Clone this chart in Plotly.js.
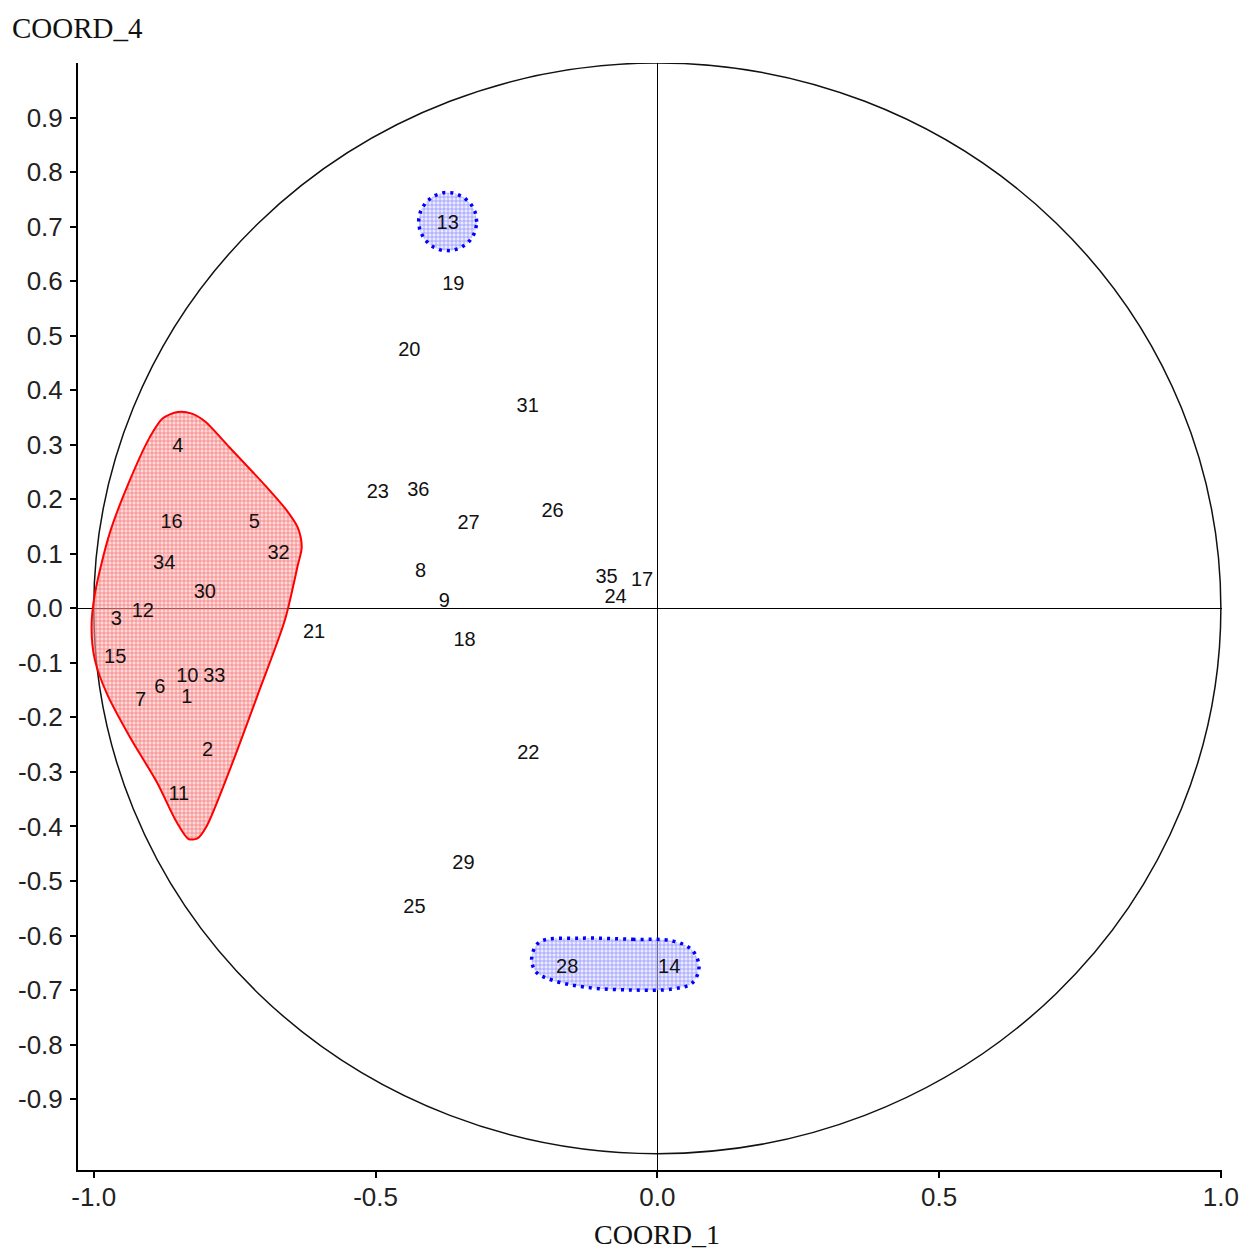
<!DOCTYPE html>
<html>
<head>
<meta charset="utf-8">
<script src="https://cdn.plot.ly/plotly-3.0.1.min.js"></script>
<style>html,body{margin:0;padding:0;background:#fff;}#chart{width:1250px;height:1252px;}</style>
</head>
<body>
<div id="chart"></div>
<script>
// Point labels and coordinates (COORD_1, COORD_4)
const pointLabels = ['1','2','3','4','5','6','7','8','9','10','11','12','13','14','15','16','17','18',
  '19','20','21','22','23','24','25','26','27','28','29','30','31','32','33','34','35','36'];
const coord1 = [-0.835,-0.798,-0.960,-0.851,-0.715,-0.883,-0.917,-0.420,-0.378,-0.834,-0.849,-0.913,
  -0.372,0.021,-0.962,-0.862,-0.027,-0.342,-0.362,-0.440,-0.609,-0.229,-0.496,-0.074,-0.431,-0.186,
  -0.335,-0.160,-0.344,-0.803,-0.230,-0.672,-0.786,-0.875,-0.090,-0.424];
const coord4 = [-0.165,-0.262,-0.022,0.296,0.156,-0.147,-0.170,0.066,0.011,-0.126,-0.343,-0.007,
  0.704,-0.660,-0.091,0.156,0.051,-0.060,0.592,0.472,-0.045,-0.268,0.212,0.019,-0.550,0.176,
  0.154,-0.659,-0.469,0.028,0.369,0.100,-0.126,0.082,0.056,0.215];

// Red group outline (hand-drawn hull)
const redHullX = [-0.998,-0.972,-0.936,-0.901,-0.878,-0.851,-0.826,-0.803,-0.759,-0.693,-0.658,-0.638,
  -0.631,-0.638,-0.661,-0.706,-0.759,-0.800,-0.816,-0.832,-0.853,-0.888,-0.936,-0.977,-0.998,-1.004,-0.998];
const redHullY = [0.027,0.137,0.235,0.313,0.348,0.360,0.357,0.343,0.295,0.222,0.180,0.148,
  0.112,0.079,-0.022,-0.150,-0.297,-0.400,-0.422,-0.423,-0.392,-0.319,-0.236,-0.156,-0.095,-0.035,0.027];

// Blue group outline around 28 and 14
const blueHullX = [-0.138,-0.044,0.027,0.062,0.074,0.062,0.027,-0.044,-0.126,-0.186,-0.215,-0.223,-0.209,-0.138];
const blueHullY = [-0.605,-0.607,-0.610,-0.627,-0.658,-0.687,-0.698,-0.700,-0.695,-0.682,-0.667,-0.642,-0.612,-0.605];

// Blue circle around 13
const blueCircleCenter = [-0.372, 0.709];
const blueCircleRadius = [0.0515, 0.0535];

// Axis ticks
const xTickVals = [-1.0,-0.5,0.0,0.5,1.0];
const xTickText = ['-1.0','-0.5','0.0','0.5','1.0'];
const yTickVals = [-0.9,-0.8,-0.7,-0.6,-0.5,-0.4,-0.3,-0.2,-0.1,0.0,0.1,0.2,0.3,0.4,0.5,0.6,0.7,0.8,0.9];
const yTickText = ['-0.9','-0.8','-0.7','-0.6','-0.5','-0.4','-0.3','-0.2','-0.1','0.0','0.1','0.2','0.3','0.4','0.5','0.6','0.7','0.8','0.9'];

const circX = [], circY = [];
for (let i = 0; i <= 72; i++) {
  const a = 2 * Math.PI * i / 72;
  circX.push(blueCircleCenter[0] + blueCircleRadius[0] * Math.cos(a));
  circY.push(blueCircleCenter[1] + blueCircleRadius[1] * Math.sin(a));
}

const redFill = {
  x: redHullX, y: redHullY, type: 'scatter', mode: 'lines', fill: 'toself',
  line: {color: '#ff0000', width: 2, shape: 'spline', smoothing: 0.8},
  fillcolor: 'rgba(255,170,170,0.55)',
  fillpattern: {shape: '+', fgcolor: 'rgba(240,90,90,0.75)', bgcolor: 'rgba(255,180,180,0.5)', size: 4, solidity: 0.35},
  hoverinfo: 'skip', showlegend: false
};
const blueFill = {
  x: blueHullX, y: blueHullY, type: 'scatter', mode: 'lines', fill: 'toself',
  line: {color: '#0000ff', width: 3.5, shape: 'spline', smoothing: 1, dash: '3px,5px'},
  fillcolor: 'rgba(190,190,255,0.6)',
  fillpattern: {shape: '+', fgcolor: 'rgba(110,110,255,0.7)', bgcolor: 'rgba(215,215,255,0.5)', size: 4, solidity: 0.35},
  hoverinfo: 'skip', showlegend: false
};
const blueCircle = {
  x: circX, y: circY, type: 'scatter', mode: 'lines', fill: 'toself',
  line: {color: '#0000ff', width: 3.5, dash: '3px,5px'},
  fillcolor: 'rgba(190,190,255,0.6)',
  fillpattern: {shape: '+', fgcolor: 'rgba(110,110,255,0.7)', bgcolor: 'rgba(215,215,255,0.5)', size: 4, solidity: 0.35},
  hoverinfo: 'skip', showlegend: false
};
const labelsTrace = {
  x: coord1, y: coord4, text: pointLabels, type: 'scatter', mode: 'text',
  textposition: 'middle center',
  textfont: {family: 'Liberation Sans, Arial, sans-serif', size: 20, color: '#111'},
  hoverinfo: 'text', showlegend: false
};

const axisCommon = {
  showgrid: false, showline: true, linecolor: '#000', linewidth: 2,
  ticks: 'outside', ticklen: 6, tickwidth: 2, tickcolor: '#000',
  zeroline: true, zerolinecolor: '#000', zerolinewidth: 1.5,
  tickfont: {family: 'Liberation Sans, Arial, sans-serif', size: 26, color: '#222'},
  tickmode: 'array', fixedrange: true
};

const layout = {
  width: 1250, height: 1252,
  margin: {l: 78, r: 28, t: 63, b: 82},
  paper_bgcolor: '#fff', plot_bgcolor: '#fff',
  showlegend: false,
  xaxis: Object.assign({}, axisCommon, {range: [-1.028, 1.002], tickvals: xTickVals, ticktext: xTickText, ticklabelstandoff: -3}),
  yaxis: Object.assign({}, axisCommon, {range: [-1.03, 1.0], tickvals: yTickVals, ticktext: yTickText, ticklabelstandoff: 2}),
  shapes: [
    {type: 'circle', xref: 'x', yref: 'y', x0: -1, x1: 1, y0: -1, y1: 1,
     line: {color: '#111', width: 1.5}, layer: 'below'}
  ],
  annotations: [
    {text: 'COORD_4', xref: 'paper', yref: 'paper', x: -0.0594, y: 1.0316, xanchor: 'left', yanchor: 'middle',
     showarrow: false, font: {family: 'Liberation Serif, Times New Roman, serif', size: 29, color: '#111'}},
    {text: 'COORD_1', xref: 'paper', yref: 'paper', x: 0.506, y: -0.0585, xanchor: 'center', yanchor: 'middle',
     showarrow: false, font: {family: 'Liberation Serif, Times New Roman, serif', size: 28, color: '#111'}}
  ]
};

Plotly.newPlot('chart', [redFill, blueFill, blueCircle, labelsTrace], layout, {displayModeBar: false, staticPlot: true});
</script>
</body>
</html>
